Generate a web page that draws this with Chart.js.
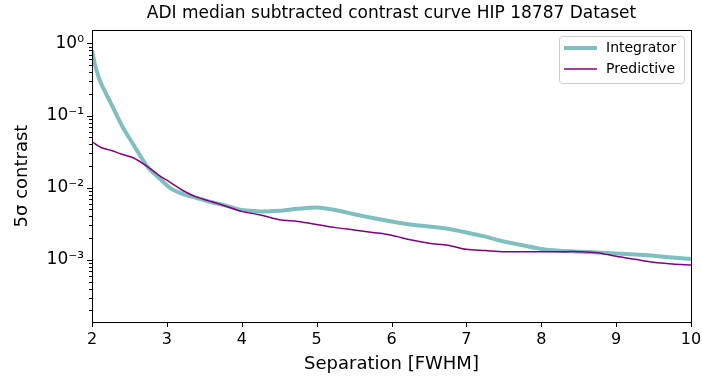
<!DOCTYPE html>
<html>
<head>
<meta charset="utf-8">
<script src="https://cdn.jsdelivr.net/npm/chart.js@4.4.1/dist/chart.umd.min.js"></script>
<style>
  html, body { margin: 0; padding: 0; background: #fff; }
</style>
</head>
<body>
<canvas id="chart" width="702" height="380"></canvas>
<script>
// Separation in FWHM and the two 5 sigma contrast curves
const separation = [2, 2.05, 2.12, 2.25, 2.4, 2.55, 2.75, 2.9, 3.05, 3.2, 3.4, 3.6, 3.8, 4.0, 4.25, 4.5, 4.75,
  5.0, 5.25, 5.5, 5.75, 6.0, 6.25, 6.5, 6.75, 7.0, 7.25, 7.5, 7.75, 8.0, 8.25, 8.5, 8.75, 9.0, 9.25, 9.5, 9.75, 10];
const integrator = [0.8, 0.46, 0.28, 0.15, 0.072, 0.04, 0.019, 0.0135, 0.0098, 0.0083, 0.0072, 0.0063, 0.0056, 0.0049,
  0.0047, 0.0048, 0.0051, 0.0053, 0.0049, 0.0043, 0.0038, 0.0034, 0.0031, 0.0029, 0.0027, 0.0024, 0.0021,
  0.0018, 0.0016, 0.00142, 0.00134, 0.0013, 0.00127, 0.00123, 0.00119, 0.00114, 0.00108, 0.00103];
const predictive = [0.0434, 0.040, 0.036, 0.033, 0.029, 0.026, 0.0193, 0.0147, 0.0118, 0.0093, 0.0074, 0.0064, 0.0055,
  0.0047, 0.0042, 0.0036, 0.0034, 0.0031, 0.0028, 0.0026, 0.0024, 0.0022, 0.0019, 0.0017, 0.0016, 0.0014,
  0.00135, 0.0013, 0.0013, 0.0013, 0.0013, 0.0013, 0.00126, 0.00112, 0.00102, 0.00093, 0.00088, 0.00085];

const xTicks = [2, 3, 4, 5, 6, 7, 8, 9, 10];
const yDecades = [1e-3, 1e-2, 1e-1, 1];
const yLabels = ['10\u207B\u00B3', '10\u207B\u00B2', '10\u207B\u00B9', '10\u2070'];

const seriesNames = ['Integrator', 'Predictive'];
const seriesColors = ['#80bfbf', '#800080'];

const FONT = '"DejaVu Sans", sans-serif';
const yMin = 1.38e-4, yMax = 1.53;

function isDecade(v) {
  return yDecades.some(d => Math.abs(v / d - 1) < 1e-6);
}

// Matplotlib-like frame, tick marks, title and legend
const decorations = {
  id: 'decorations',
  afterDraw(chart) {
    const { ctx, chartArea: a, scales } = chart;
    ctx.save();
    ctx.strokeStyle = '#000';
    ctx.lineWidth = 1;
    ctx.strokeRect(Math.round(a.left) + 0.5, Math.round(a.top) + 0.5,
      Math.round(a.right - a.left), Math.round(a.bottom - a.top));

    // x ticks
    ctx.beginPath();
    xTicks.forEach(v => {
      const px = Math.round(scales.x.getPixelForValue(v)) + 0.5;
      ctx.moveTo(px, a.bottom);
      ctx.lineTo(px, a.bottom + 5);
    });
    // y ticks, major and minor
    scales.y.ticks.forEach(t => {
      const py = Math.round(scales.y.getPixelForValue(t.value)) + 0.5;
      const len = isDecade(t.value) ? 5 : 3;
      ctx.moveTo(a.left, py);
      ctx.lineTo(a.left - len, py);
    });
    ctx.stroke();

    // title
    ctx.fillStyle = '#000';
    ctx.font = '17px ' + FONT;
    ctx.textAlign = 'center';
    ctx.textBaseline = 'middle';
    ctx.fillText('ADI median subtracted contrast curve HIP 18787 Dataset', (a.left + a.right) / 2, 14);

    // legend
    const lx = 559.5, ly = 36.5, lw = 125, lh = 47;
    ctx.beginPath();
    ctx.roundRect(lx, ly, lw, lh, 3);
    ctx.fillStyle = 'rgba(255,255,255,0.8)';
    ctx.fill();
    ctx.strokeStyle = '#cccccc';
    ctx.stroke();
    ctx.font = '14px ' + FONT;
    ctx.textAlign = 'left';
    seriesNames.forEach((name, i) => {
      const y = 48 + i * 21;
      ctx.beginPath();
      ctx.strokeStyle = seriesColors[i];
      ctx.lineWidth = i === 0 ? 4 : 1.5;
      ctx.moveTo(564, y);
      ctx.lineTo(597, y);
      ctx.stroke();
      ctx.fillStyle = '#000';
      ctx.fillText(name, 606, y);
    });
    ctx.restore();
  }
};

const ctx = document.getElementById('chart').getContext('2d');
const chart = new Chart(ctx, {
  type: 'line',
  data: {
    datasets: [
      {
        label: seriesNames[0],
        data: separation.map((x, i) => ({ x: x, y: integrator[i] })),
        borderColor: seriesColors[0],
        borderWidth: 4,
        pointRadius: 0,
        tension: 0.3,
        order: 2
      },
      {
        label: seriesNames[1],
        data: separation.map((x, i) => ({ x: x, y: predictive[i] })),
        borderColor: seriesColors[1],
        borderWidth: 1.5,
        pointRadius: 0,
        tension: 0.3,
        order: 1
      }
    ]
  },
  options: {
    responsive: false,
    animation: false,
    devicePixelRatio: 1,
    layout: { padding: { top: 30, right: 0, bottom: 0, left: 0 } },
    plugins: {
      legend: { display: false },
      title: { display: false },
      tooltip: { enabled: false }
    },
    scales: {
      x: {
        type: 'linear',
        min: 2,
        max: 10,
        afterBuildTicks: s => { s.ticks = xTicks.map(v => ({ value: v })); },
        afterFit: s => { s.height = 58; s.paddingRight = 11; s.paddingLeft = 0; },
        grid: { display: false, drawTicks: false },
        border: { display: false },
        ticks: { color: '#000', font: { family: FONT, size: 16 }, padding: 8, maxRotation: 0 },
        title: {
          display: true,
          text: 'Separation [FWHM]',
          color: '#000',
          font: { family: FONT, size: 18 },
          padding: { top: 0, bottom: 5 }
        }
      },
      y: {
        type: 'logarithmic',
        min: yMin,
        max: yMax,
        afterBuildTicks: s => {
          const ticks = [];
          for (let e = -4; e <= 0; e++) {
            for (let m = 1; m <= 9; m++) {
              const v = m * Math.pow(10, e);
              if (v >= yMin && v <= yMax) ticks.push({ value: v });
            }
          }
          s.ticks = ticks;
        },
        afterFit: s => { s.width = 92; },
        grid: { display: false, drawTicks: false },
        border: { display: false },
        ticks: {
          autoSkip: false,
          color: '#000',
          font: { family: FONT, size: 17 },
          padding: 8,
          callback: v => {
            const i = yDecades.findIndex(d => Math.abs(v / d - 1) < 1e-6);
            return i >= 0 ? yLabels[i] : '';
          }
        },
        title: {
          display: true,
          text: '5\u03C3 contrast',
          color: '#000',
          font: { family: FONT, size: 18 },
          padding: { top: 12, bottom: 0 }
        }
      }
    }
  },
  plugins: [decorations]
});
</script>
</body>
</html>
